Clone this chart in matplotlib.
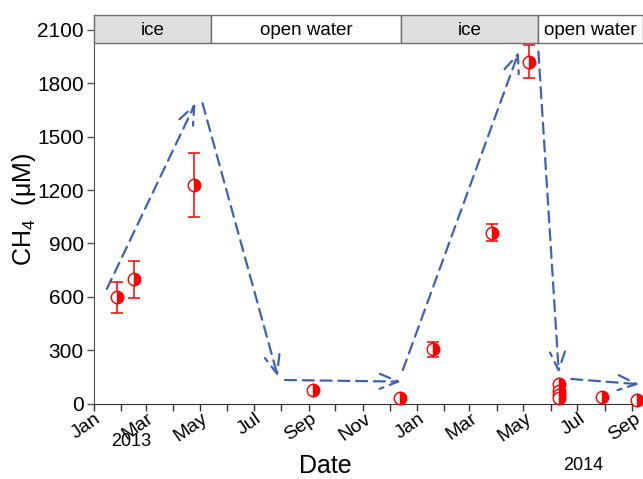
import matplotlib
matplotlib.use("Agg")
import matplotlib.pyplot as plt
import matplotlib.dates as mdates
import matplotlib.transforms as mtransforms
from matplotlib.patches import Rectangle
import numpy as np
import datetime as dt

plt.rcParams['font.family'] = ['Liberation Sans', 'DejaVu Sans']
plt.rcParams['mathtext.default'] = 'regular'

# CH4 concentrations (uM) with standard deviations
sample_dates = ["2013-01-27", "2013-02-16", "2013-04-24", "2013-09-06", "2013-12-13",
                "2014-01-19", "2014-03-27", "2014-05-07",
                "2014-06-10", "2014-06-10", "2014-06-10", "2014-06-10",
                "2014-07-29", "2014-09-06"]
ch4 = [597, 698, 1227, 76, 30, 305, 960, 1922, 110, 72, 50, 30, 35, 20]
ch4_err = [87, 103, 181, 0, 0, 43, 47, 94, 0, 0, 0, 0, 0, 0]

# Seasonal trend arrows: (start date, start value, end date, end value)
arrow_start_dates = ["2013-01-16", "2013-05-04", "2013-08-05", "2013-12-16", "2014-05-18", "2014-06-24"]
arrow_start_vals = [644, 1688, 132, 188, 1978, 138]
arrow_end_dates = ["2013-04-26", "2013-07-28", "2013-12-14", "2014-04-26", "2014-06-10", "2014-09-09"]
arrow_end_vals = [1688, 151, 123, 1978, 170, 108]

# Ice / open-water periods shown in the top band
period_labels = ["ice", "open water", "ice", "open water"]
period_starts = ["2013-01-01", "2013-05-14", "2013-12-14", "2014-05-17"]
period_ends = ["2013-05-14", "2013-12-14", "2014-05-17", "2014-09-13"]

def d(s):
    return mdates.date2num(dt.datetime.strptime(s, "%Y-%m-%d"))

x_min, x_max = d("2013-01-01"), d("2014-09-13")
y_min, y_max = 0, 2184

fig = plt.figure(figsize=(6.43, 4.79), dpi=100)
ax = fig.add_axes([93.5 / 643, 1 - 403.5 / 479, 1 - 93.5 / 643, (403.5 - 15) / 479])
ax.set_xlim(x_min, x_max)
ax.set_ylim(y_min, y_max)

red = '#ff0000'
blue = '#3d63b3'

# trend arrows
for sd, sv, ed, ev in zip(arrow_start_dates, arrow_start_vals, arrow_end_dates, arrow_end_vals):
    ax.annotate('', xy=(d(ed), ev), xytext=(d(sd), sv),
                arrowprops=dict(arrowstyle='->,head_length=1.1,head_width=0.45',
                                linestyle=(0, (5, 3)), lw=1.6, color=blue,
                                shrinkA=0, shrinkB=0, mutation_scale=12),
                annotation_clip=False)

# data points
xs = np.array([d(s) for s in sample_dates])
ys = np.array(ch4)
errs = np.array(ch4_err)
has_err = errs > 0
ax.errorbar(xs[has_err], ys[has_err], yerr=errs[has_err], fmt='none',
            ecolor=red, elinewidth=1.1, capsize=4.5, capthick=1.1, zorder=3)
ax.plot(xs, ys, 'o', ms=9, mec=red, mew=1.0, mfc=red, mfcalt='white',
        fillstyle='right', clip_on=False, zorder=4)

# top band with ice / open water periods
band_lo, band_hi = 2025, 2182
for lab, s, e in zip(period_labels, period_starts, period_ends):
    x0, x1 = d(s), d(e)
    fc = '#e0dfdf' if lab == 'ice' else 'white'
    ax.add_patch(Rectangle((x0, band_lo), x1 - x0, band_hi - band_lo,
                           facecolor=fc, edgecolor='#6e6e6e', lw=1.0, zorder=5,
                           clip_on=False))
    ax.text((x0 + x1) / 2, (band_lo + band_hi) / 2 - 5, lab, ha='center', va='center',
            fontsize=13.5, zorder=6)

# axes styling
for side in ('top', 'right'):
    ax.spines[side].set_visible(False)
ax.spines['left'].set_color('#555555')
ax.spines['bottom'].set_color('#333333')

ax.set_yticks([0, 300, 600, 900, 1200, 1500, 1800, 2100])
ax.tick_params(axis='y', labelsize=15, length=5, width=1, color='#555555', pad=2)

ax.xaxis.set_major_locator(mdates.MonthLocator(bymonth=[1, 3, 5, 7, 9, 11]))
ax.xaxis.set_minor_locator(mdates.MonthLocator())
ax.xaxis.set_major_formatter(mdates.DateFormatter('%b'))
ax.tick_params(axis='x', which='both', length=5, width=1, color='#333333')
ax.tick_params(axis='x', which='major', labelsize=14, pad=5.5)
shift = mtransforms.ScaledTranslation(6 / 100, 1 / 100, fig.dpi_scale_trans)
for lbl in ax.get_xticklabels():
    lbl.set_rotation(35)
    lbl.set_ha('right')
    lbl.set_va('center')
    lbl.set_rotation_mode('anchor')
    lbl.set_transform(lbl.get_transform() + shift)

ax.set_ylabel('CH$_4$  (μM)', fontsize=18)
ax.yaxis.set_label_coords(-0.101, 0.5)
fig.text(325 / 643, 1 - 466 / 479, 'Date', fontsize=18, ha='center', va='center')
fig.text(131 / 643, 1 - 441 / 479, '2013', fontsize=13, ha='center', va='center')
fig.text(583 / 643, 1 - 466 / 479, '2014', fontsize=13, ha='center', va='center')

fig.savefig('out.png', dpi=100)
